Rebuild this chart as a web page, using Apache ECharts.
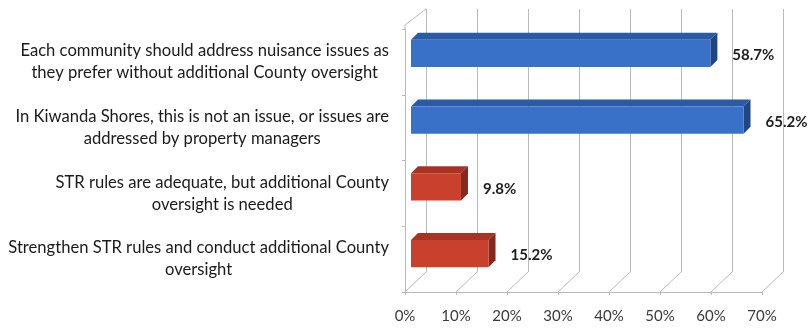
<!DOCTYPE html>
<html>
<head>
<meta charset="utf-8">
<script src="https://cdn.jsdelivr.net/npm/echarts@6/dist/echarts.min.js"></script>
<style>
html,body{margin:0;padding:0;background:#fff;}
#c{width:810px;height:328px;}
</style>
</head>
<body>
<div id="c"></div>
<script>
// ---- data ----
var categories = [
  "Each community should address nuisance issues as\nthey prefer without additional County oversight",
  "In Kiwanda Shores, this is not an issue, or issues are\naddressed by property managers",
  "STR rules are adequate, but additional County\noversight is needed",
  "Strengthen STR rules and conduct additional County\noversight"
];
var values = [58.7, 65.2, 9.8, 15.2];
var tickValues = [0, 10, 20, 30, 40, 50, 60, 70];
var tickLabels = ["0%", "10%", "20%", "30%", "40%", "50%", "60%", "70%"];

// ---- style ----
var W = 810, H = 328;
var FRONT = {left: 405, right: 48, top: 29, bottom: 36};
var BACK  = {left: 426, right: 27, top: 9,  bottom: 56};
var BARS  = {left: 411, right: 42, top: 20, bottom: 41};
var faceColors = [
  {front: '#3a71c8', top: '#2b5aa6', side: '#1f4683'},
  {front: '#3a71c8', top: '#2b5aa6', side: '#1f4683'},
  {front: '#c9402d', top: '#a83325', side: '#85281d'},
  {front: '#c9402d', top: '#a83325', side: '#85281d'}
];
var GRID_COLOR = '#b9b9b9';
var FONT = 'Lato, "Open Sans", sans-serif';

var chart = echarts.init(document.getElementById('c'), null, {renderer: 'canvas'});

function labelFormatter(val) {
  return val.split('\n').map(function (l) { return '{c|' + l + '}'; }).join('\n');
}

var option = {
  backgroundColor: '#ffffff',
  animation: false,
  grid: [
    {left: FRONT.left, right: FRONT.right, top: FRONT.top, bottom: FRONT.bottom},
    {left: BACK.left, right: BACK.right, top: BACK.top, bottom: BACK.bottom},
    {left: BARS.left, right: BARS.right, top: BARS.top, bottom: BARS.bottom}
  ],
  xAxis: [
    {
      gridIndex: 0, type: 'value', min: 0, max: 70, interval: 10,
      axisLine: {show: true, lineStyle: {color: GRID_COLOR, width: 1}},
      axisTick: {show: true, length: 3, lineStyle: {color: GRID_COLOR}},
      splitLine: {show: false},
      axisLabel: {
        margin: 17, color: '#3a3a3a', fontSize: 15, fontFamily: FONT,
        formatter: function (v) { return tickLabels[tickValues.indexOf(v)]; }
      }
    },
    {
      gridIndex: 1, type: 'value', min: 0, max: 70, interval: 10,
      axisLine: {show: false}, axisTick: {show: false}, axisLabel: {show: false},
      splitLine: {show: true, lineStyle: {color: GRID_COLOR, width: 1}}
    },
    {
      gridIndex: 2, type: 'value', min: 0, max: 70, interval: 10,
      axisLine: {show: false}, axisTick: {show: false}, axisLabel: {show: false},
      splitLine: {show: false}
    }
  ],
  yAxis: [
    {
      gridIndex: 0, type: 'category', inverse: true, data: categories,
      axisLine: {show: true, lineStyle: {color: GRID_COLOR, width: 1}},
      axisTick: {show: true, length: 3, lineStyle: {color: GRID_COLOR}},
      axisLabel: {
        margin: 16, formatter: labelFormatter,
        rich: {c: {align: 'center', fontSize: 16.6, lineHeight: 22, color: '#1a1a1a', fontFamily: FONT}}
      }
    },
    {gridIndex: 1, type: 'category', inverse: true, data: categories, show: false},
    {gridIndex: 2, type: 'category', inverse: true, data: categories, show: false}
  ],
  series: [{
    type: 'custom',
    xAxisIndex: 2, yAxisIndex: 2,
    data: values.map(function (v, i) { return [v, i]; }),
    renderItem: function (params, api) {
      var idx = params.dataIndex;
      var v = api.value(0), c = api.value(1);
      var p0 = api.coord([0, c]);
      var p1 = api.coord([v, c]);
      var band = api.size([0, 1])[1];
      var h = band * 0.41;
      var d = 7;
      var x0 = p0[0], x1 = p1[0];
      var yt = p1[1] - h / 2, yb = p1[1] + h / 2;
      var col = faceColors[idx];
      return {
        type: 'group',
        children: [
          {type: 'polygon', shape: {points: [[x0, yt], [x0 + d, yt - d], [x1 + d, yt - d], [x1, yt]]},
           style: {fill: col.top}},
          {type: 'polygon', shape: {points: [[x1, yt], [x1 + d, yt - d], [x1 + d, yb - d], [x1, yb]]},
           style: {fill: col.side}},
          {type: 'rect', shape: {x: x0, y: yt, width: x1 - x0, height: yb - yt},
           style: {fill: col.front}},
          {type: 'text', x: x1 + 22, y: p1[1] + 2,
           style: {text: v.toFixed(1) + '%', fill: '#1e1e1e', font: 'bold 15px ' + FONT,
                   textAlign: 'left', textVerticalAlign: 'middle'}}
        ]
      };
    }
  }]
};
chart.setOption(option);

// depth (floor/wall) connector lines derived from the axes
var gfx = [];
var frontY = H - FRONT.bottom, backY = H - BACK.bottom;
tickValues.forEach(function (v) {
  var fx = chart.convertToPixel({xAxisIndex: 0}, v);
  var bx = chart.convertToPixel({xAxisIndex: 1}, v);
  gfx.push({type: 'line', shape: {x1: fx, y1: frontY, x2: bx, y2: backY},
            style: {stroke: GRID_COLOR, lineWidth: 1}});
});
var fx0 = chart.convertToPixel({xAxisIndex: 0}, 0);
var bx0 = chart.convertToPixel({xAxisIndex: 1}, 0);
gfx.push({type: 'line', shape: {x1: fx0, y1: FRONT.top - 4, x2: bx0, y2: BACK.top},
          style: {stroke: GRID_COLOR, lineWidth: 1}});
gfx.push({type: 'line', shape: {x1: fx0, y1: FRONT.top - 4, x2: fx0, y2: FRONT.top},
          style: {stroke: GRID_COLOR, lineWidth: 1}});
chart.setOption({graphic: gfx});
</script>
</body>
</html>
